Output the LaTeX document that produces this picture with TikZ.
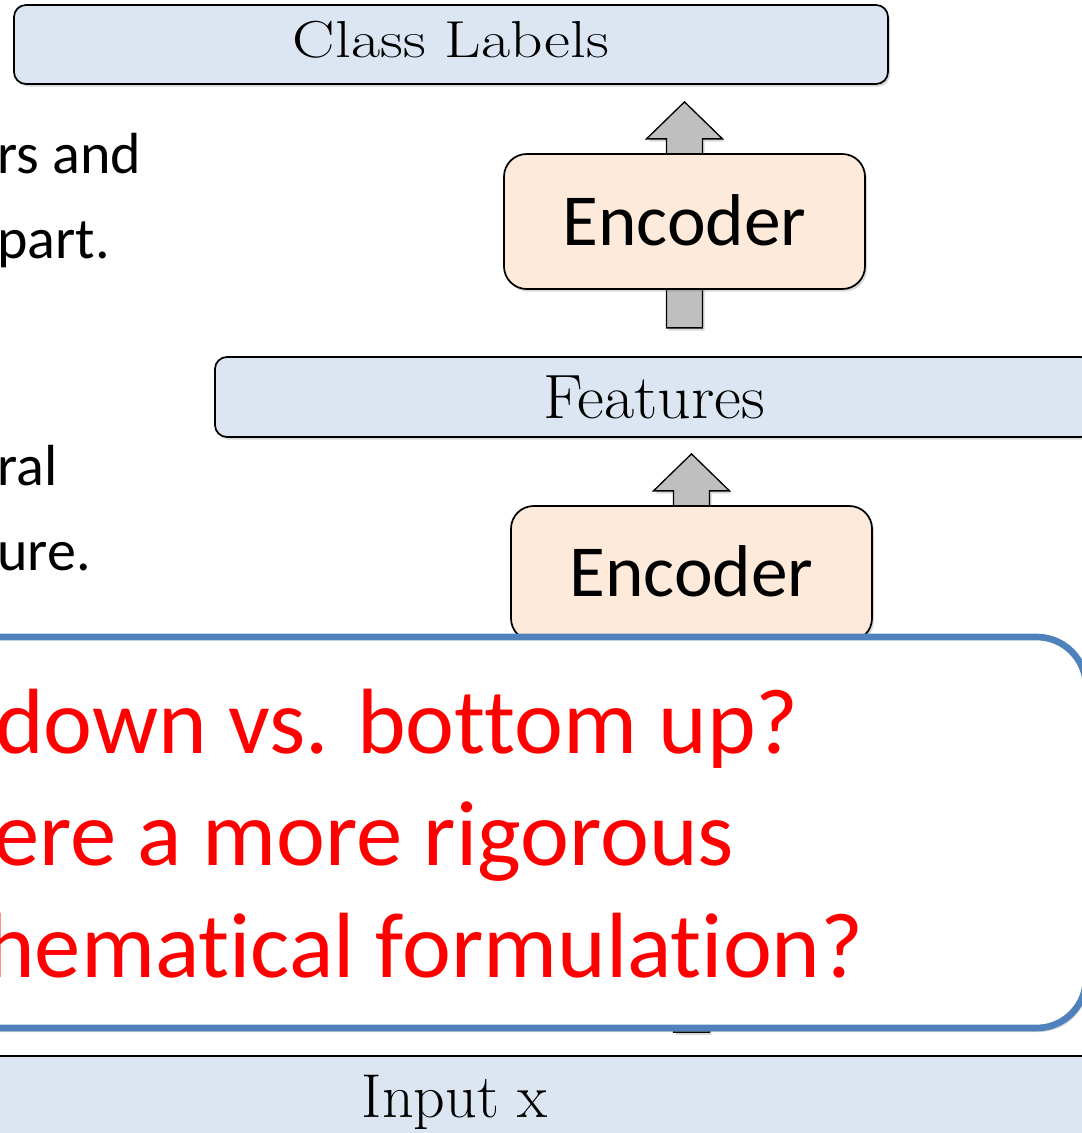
\documentclass[tikz,border=0pt]{standalone}
\usepackage{fontspec}
\newfontfamily\calibri[Ligatures={NoCommon,NoRequired,NoContextual}]{Carlito}
\usetikzlibrary{calc,shadows}
\pgfdeclarelayer{background}
\pgfsetlayers{background,main}
\definecolor{boxblue}{HTML}{DCE6F2}
\definecolor{boxorange}{HTML}{FDEADA}
\definecolor{arrowgray}{HTML}{BFBFBF}
\definecolor{calloutblue}{HTML}{4F81BD}
\newcommand{\pxu}{0.75pt}
% vertical block arrow: #1 tail, #2 tip
\newcommand{\blkarrow}[2]{%
  \draw[blkarrow] ($(#1)+(-18,0)$) -- ($(#2)+(-18,37)$) -- ($(#2)+(-38,37)$) -- (#2)
    -- ($(#2)+(38,37)$) -- ($(#2)+(18,37)$) -- ($(#1)+(18,0)$) -- cycle;}
\begin{document}
\begin{tikzpicture}[x=0.75pt, y=-0.75pt,
  layerbox/.style={draw=black, line width=1.3pt, fill=boxblue, rounded corners=9pt,
    drop shadow={shadow xshift=1.5pt, shadow yshift=-2pt, opacity=0.3}},
  encbox/.style={draw=black, line width=1.3pt, fill=boxorange, rounded corners=17pt,
    font=\calibri\fontsize{55}{60}\selectfont,
    minimum width=361*\pxu, minimum height=135*\pxu,
    drop shadow={shadow xshift=1.5pt, shadow yshift=-2pt, opacity=0.3}},
  blkarrow/.style={draw=black, line width=1pt, fill=arrowgray, line join=miter,
    drop shadow={shadow xshift=1.5pt, shadow yshift=-2pt, opacity=0.3}},
  sidetext/.style={anchor=base west, inner sep=0pt, font=\calibri\fontsize{43.5}{50}\selectfont},
  redtext/.style={anchor=base west, inner sep=0pt, text=red, font=\calibri\fontsize{69.5}{80}\selectfont}]
  \useasboundingbox (0,0) rectangle (1082,1133);

  % 1. layer boxes
  \node[layerbox, minimum width=874*\pxu, minimum height=79*\pxu,
    text height=22pt, text depth=3.25pt, font=\fontsize{39}{44}\selectfont]
    (cls) at (451,44.5) {\scalebox{1.22}[1]{Class Labels}};
  \node[layerbox, minimum width=878*\pxu, minimum height=80*\pxu,
    text height=33.5pt, text depth=2pt, font=\fontsize{47}{52}\selectfont]
    (feat) at (654,397) {\scalebox{1.05}[1]{Features}};
  \node[layerbox, minimum width=1310*\pxu, minimum height=84*\pxu,
    text height=30pt, text depth=1.5pt, font=\fontsize{46.5}{50}\selectfont]
    (inp) at (455,1098) {Input x};

  % 2. encoders
  \node[encbox, text height=38pt, text depth=2pt] (enc1) at (684.5,221.5) {Encoder};
  \node[encbox, text height=36pt, text depth=2.25pt] (enc2) at (691.5,573.5) {Encoder};

  % 3. block arrows (behind the boxes)
  \coordinate (tipA) at ($(enc1.north |- cls.south)+(0,17)$);
  \coordinate (tailB) at ($(enc1.south)+(0,38)$);
  \coordinate (tipC) at ($(enc2.north |- feat.south)+(0,16)$);
  \coordinate (tailD) at ($(enc2.south |- inp.north)+(0,-23)$);
  \begin{pgfonlayer}{background}
    \blkarrow{enc1.center}{tipA}
    \blkarrow{tailB}{enc1.center}
    \blkarrow{enc2.center}{tipC}
    \blkarrow{tailD}{enc2.center}
  \end{pgfonlayer}

  % 4. side text (cut off at the left)
  \node[sidetext] (s1) at (-3,173) {rs and};
  \node[sidetext] (s2) at (-3,258) {part.};
  \node[sidetext] (s3) at (-3,485) {ral};
  \node[sidetext] (s4) at (-3,570) {ure.};

  % 5. question callout
  \node[draw=calloutblue, line width=5pt, fill=white, rounded corners=37pt,
    minimum width=1586*\pxu, minimum height=391*\pxu,
    drop shadow={shadow xshift=1.5pt, shadow yshift=-3pt, opacity=0.35}]
    (qbox) at (293,832.5) {};
  \node[redtext] (q1) at (-5,753) {down vs. bottom up?};
  \node[redtext] (q2) at (-7,865) {ere a more rigorous};
  \node[redtext] (q3) at (-14,977) {hematical formulation?};
\end{tikzpicture}
\end{document}
